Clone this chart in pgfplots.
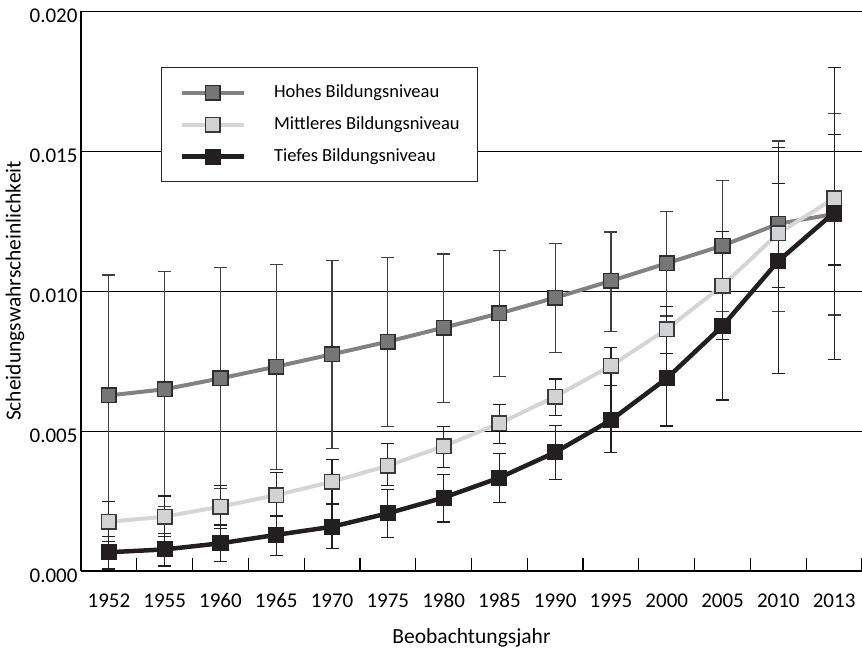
\documentclass[border=0pt]{standalone}
\usepackage{fontspec}
\setmainfont{Carlito}
\usepackage{pgfplots}
\pgfplotsset{compat=1.18}
\usepackage{pgfplotstable}

\definecolor{hohesline}{HTML}{828282}
\definecolor{hohesfill}{HTML}{767676}
\definecolor{hohesborder}{HTML}{2E2E2E}
\definecolor{hohesbar}{HTML}{3F3F3F}
\definecolor{mittline}{HTML}{D5D5D5}
\definecolor{mittfill}{HTML}{D1D2D3}
\definecolor{mittborder}{HTML}{3A3A3A}
\definecolor{tiefline}{HTML}{231F20}
\definecolor{tiefbar}{HTML}{231F20}

% values in units of 0.001
\pgfplotstableread{
x y ep em
0 6.27 4.30 4.30
1 6.49 4.20 4.20
2 6.88 3.95 3.94
3 7.30 3.66 3.67
4 7.74 3.36 3.37
5 8.19 3.00 3.04
6 8.69 2.63 2.67
7 9.20 2.26 2.26
8 9.76 1.93 1.96
9 10.36 1.75 1.80
10 10.99 1.84 1.88
11 11.62 2.32 2.36
12 12.40 2.96 3.14
13 12.75 3.60 3.61
}\hohes

\pgfplotstableread{
x y ep em
0 1.76 0.72 0.72
1 1.94 0.74 0.71
2 2.30 0.74 0.78
3 2.71 0.80 0.75
4 3.19 0.80 0.80
5 3.76 0.78 0.72
6 4.46 0.69 0.76
7 5.27 0.69 0.71
8 6.23 0.63 0.68
9 7.33 0.65 0.70
10 8.64 0.82 0.87
11 10.19 1.93 1.93
12 12.06 1.79 1.93
13 13.31 2.29 2.38
}\mittleres

\pgfplotstableread{
x y ep em
0 0.67 0.56 0.60
1 0.77 0.58 0.59
2 0.99 0.65 0.66
3 1.29 0.70 0.75
4 1.58 0.79 0.77
5 2.06 0.86 0.86
6 2.62 0.84 0.87
7 3.33 0.87 0.89
8 4.24 0.96 0.97
9 5.39 1.23 1.16
10 6.88 1.70 1.70
11 8.75 2.64 2.64
12 11.07 4.05 4.03
13 12.80 5.18 5.24
}\tiefes

\begin{document}
\begin{tikzpicture}
\begin{axis}[
  scale only axis, width=781bp, height=560bp,
  xmin=-0.5, xmax=13.5, ymin=0, ymax=20,
  axis x line*=bottom, axis y line*=left,
  axis line style={line width=1.2bp, black},
  font=\fontsize{19bp}{23bp}\selectfont,
  tick label style={font=\fontsize{21bp}{25bp}\selectfont},
  /pgf/number format/assume math mode=true,
  xtick={0,...,13},
  xticklabels={1952,1955,1960,1965,1970,1975,1980,1985,1990,1995,2000,2005,2010,2013},
  major tick length=0pt,
  extra x ticks={0.5,1.5,2.5,3.5,4.5,5.5,6.5,7.5,8.5,9.5,10.5,11.5,12.5,13.5},
  extra x tick labels={},
  extra x tick style={major tick length=13bp, tick align=inside, tick style={line width=1.2bp, black}},
  xticklabel style={yshift=-19bp},
  ytick={0,5,10,15,20},
  yticklabels={0.000,0.005,0.010,0.015,0.020},
  yticklabel style={yshift=-4.5bp},
  ymajorgrids, grid style={line width=0.9bp, black},
  xlabel={Beobachtungsjahr},
  ylabel={Scheidungswahrscheinlichkeit},
  every axis x label/.style={at={(axis description cs:0.5,-0.119)}, anchor=center, font=\fontsize{21.5bp}{25bp}\selectfont},
  every axis y label/.style={at={(axis description cs:-0.0845,0.5)}, rotate=90, anchor=center, font=\fontsize{21.5bp}{25bp}\selectfont},
  legend style={at={(axis description cs:0.1024,0.9)}, anchor=north west,
    draw=black!85, line width=1.2bp, fill=white, font=\fontsize{18.5bp}{22bp}\selectfont,
    inner xsep=18bp, inner ysep=16bp, row sep=14bp,
    nodes={inner xsep=0pt, inner ysep=0pt, text height=13.5bp, text depth=4.5bp},
    /tikz/every odd column/.append style={column sep=28bp}},
  legend cell align=left,
  legend image code/.code={\draw[mark repeat=2,mark phase=2,#1] plot coordinates {(0bp,0bp)(31bp,0bp)(62bp,0bp)};},
]
% error bars first
\addplot[forget plot, draw=none, mark=none,
  error bars/.cd, y dir=both, y explicit,
  error bar style={draw=hohesbar, line width=1.2bp},
  error mark options={rotate=90, mark size=6.5bp, draw=hohesbar, line width=1.2bp}]
  table[x=x, y=y, y error plus=ep, y error minus=em] {\hohes};
\addplot[forget plot, draw=none, mark=none,
  error bars/.cd, y dir=both, y explicit,
  error bar style={draw=tiefbar, line width=1.2bp},
  error mark options={rotate=90, mark size=6.5bp, draw=tiefbar, line width=1.2bp}]
  table[x=x, y=y, y error plus=ep, y error minus=em] {\mittleres};
\addplot[forget plot, draw=none, mark=none,
  error bars/.cd, y dir=both, y explicit,
  error bar style={draw=tiefbar, line width=1.2bp},
  error mark options={rotate=90, mark size=6.5bp, draw=tiefbar, line width=1.2bp}]
  table[x=x, y=y, y error plus=ep, y error minus=em] {\tiefes};
% lines and markers
\addplot[line width=4bp, color=hohesline, mark=square*, mark size=7.3bp,
  mark options={fill=hohesfill, draw=hohesborder, line width=1.5bp}]
  table[x=x, y=y] {\hohes};
\addlegendentry{Hohes Bildungsniveau}
\addplot[line width=4bp, color=mittline, mark=square*, mark size=7.3bp,
  mark options={fill=mittfill, draw=mittborder, line width=1.5bp}]
  table[x=x, y=y] {\mittleres};
\addlegendentry{Mittleres Bildungsniveau}
\addplot[line width=4.5bp, color=tiefline, mark=square*, mark size=7.3bp,
  mark options={fill=tiefline, draw=tiefline, line width=1.5bp}]
  table[x=x, y=y] {\tiefes};
\addlegendentry{Tiefes Bildungsniveau}
\end{axis}
\pgfresetboundingbox
\path (current axis.south west) ++(-81bp,-79bp) rectangle ++(862bp,650bp);
\end{tikzpicture}
\end{document}
